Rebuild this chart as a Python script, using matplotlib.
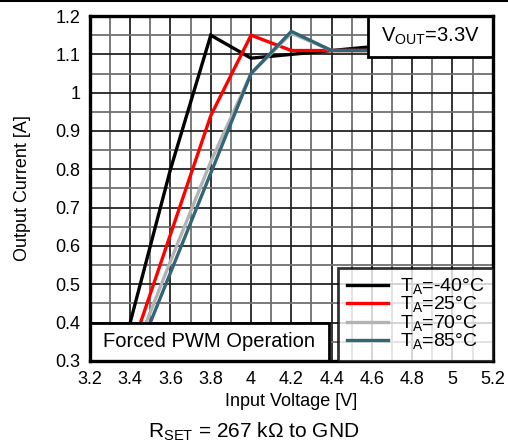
import matplotlib
matplotlib.use("Agg")
import matplotlib.pyplot as plt
from matplotlib.patches import Rectangle
from matplotlib.lines import Line2D
from matplotlib.ticker import MultipleLocator

plt.rcParams['font.family'] = ['Liberation Sans', 'DejaVu Sans']
plt.rcParams['mathtext.fontset'] = 'custom'
plt.rcParams['mathtext.rm'] = 'Liberation Sans'

# input voltage [V] and output current [A] per ambient temperature
vin = [3.4, 3.6, 3.8, 4.0, 4.2, 4.4, 4.6]
iout_m40 = [0.40, 0.80, 1.15, 1.09, 1.10, 1.11, 1.12]
iout_25 = [0.32, 0.63, 0.94, 1.15, 1.11, 1.11, 1.11]
iout_70 = [0.295, 0.56, 0.82, 1.05, 1.155, 1.11, 1.11]
iout_85 = [0.27, 0.53, 0.79, 1.05, 1.16, 1.11, 1.11]

labels = [r'T$_\mathrm{A}$=-40°C', r'T$_\mathrm{A}$=25°C',
          r'T$_\mathrm{A}$=70°C', r'T$_\mathrm{A}$=85°C']
colors = ['#000000', '#ff0000', '#b3b3b3', '#336577']
xticks = [3.2, 3.4, 3.6, 3.8, 4, 4.2, 4.4, 4.6, 4.8, 5, 5.2]
xtick_labels = ['3.2', '3.4', '3.6', '3.8', '4', '4.2', '4.4', '4.6', '4.8', '5', '5.2']
yticks = [0.3, 0.4, 0.5, 0.6, 0.7, 0.8, 0.9, 1.0, 1.1, 1.2]
ytick_labels = ['0.3', '0.4', '0.5', '0.6', '0.7', '0.8', '0.9', '1', '1.1', '1.2']

fig = plt.figure(figsize=(5.08, 4.46), dpi=100)
ax = fig.add_axes([0.177, 0.191, 0.793, 0.773])

for ys, c, lab in zip([iout_m40, iout_25, iout_70, iout_85], colors, labels):
    ax.plot(vin, ys, color=c, lw=2.4, label=lab, zorder=3, solid_joinstyle='miter')

ax.set_xlim(3.2, 5.2)
ax.set_ylim(0.3, 1.2)
ax.set_xticks(xticks)
ax.set_xticklabels(xtick_labels)
ax.set_yticks(yticks)
ax.set_yticklabels(ytick_labels)
ax.xaxis.set_minor_locator(MultipleLocator(0.1))
ax.yaxis.set_minor_locator(MultipleLocator(0.05))
ax.grid(True, which='major', color='#222222', lw=1.3, zorder=1)
ax.grid(True, which='minor', color='#707070', lw=1.3, zorder=1)
ax.tick_params(which='both', length=0, labelsize=13, pad=7)
for s in ax.spines.values():
    s.set_linewidth(2.4)
    s.set_zorder(6)

ax.set_xlabel('Input Voltage [V]', fontsize=13, labelpad=4)
ax.set_ylabel('Output Current [A]', fontsize=13, labelpad=17)

# annotation boxes
ax.add_patch(Rectangle((0, 0), 0.593, 0.11, transform=ax.transAxes,
                       facecolor='white', edgecolor='black', lw=2, zorder=4))
ax.text(0.296, 0.055, 'Forced PWM Operation', transform=ax.transAxes,
        ha='center', va='center', fontsize=14.5, zorder=5)
ax.add_patch(Rectangle((0.69, 0.881), 0.31, 0.119, transform=ax.transAxes,
                       facecolor='white', edgecolor='black', lw=2, zorder=4))
ax.text(0.845, 0.94, r'V$_\mathrm{OUT}$=3.3V', transform=ax.transAxes,
        ha='center', va='center', fontsize=14.5, zorder=5)

leg = ax.legend(loc='lower right', fontsize=14, frameon=True, fancybox=False,
                borderaxespad=0, handlelength=2.1, labelspacing=-0.1,
                handletextpad=0.6, borderpad=0.45)
leg.get_frame().set_edgecolor('black')
leg.get_frame().set_linewidth(2)
leg.set_zorder(7)

fig.text(0.5, 0.006, r'R$_\mathrm{SET}$ = 267 k$\Omega$ to GND', ha='center',
         va='bottom', fontsize=15)
fig.add_artist(Line2D([0, 1], [0.998, 0.998], color='black', lw=1.5))

fig.savefig('out.png', dpi=100)
